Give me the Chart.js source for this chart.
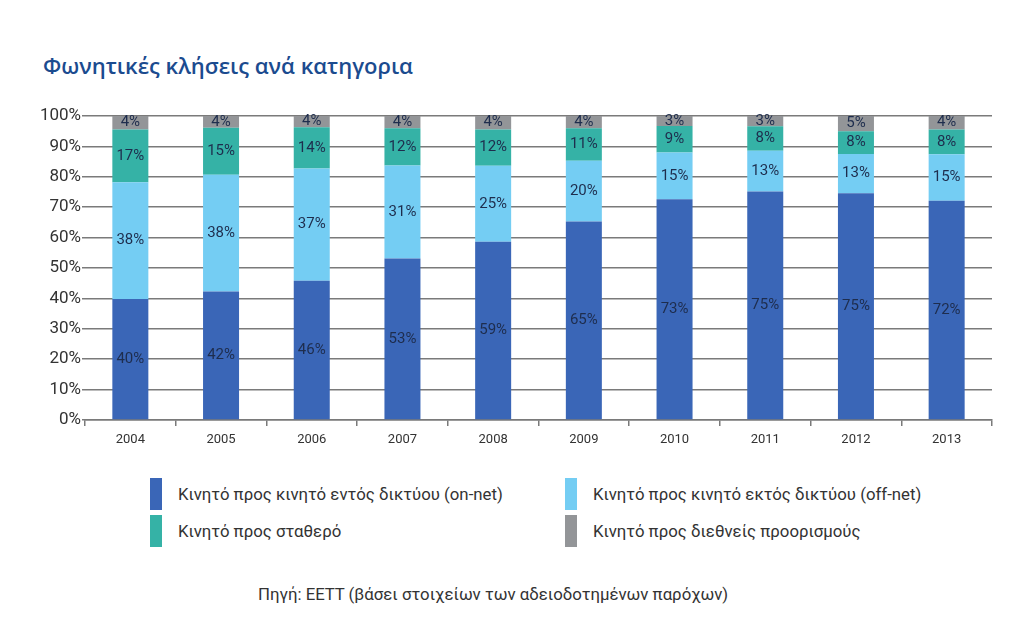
<!DOCTYPE html>
<html lang="el">
<head>
<meta charset="utf-8">
<title>Φωνητικές κλήσεις ανά κατηγορια</title>
<script src="https://cdn.jsdelivr.net/npm/chart.js@4.4.1/dist/chart.umd.min.js"></script>
<style>
  html, body { margin: 0; padding: 0; background: #fff; }
  body { width: 1024px; height: 635px; position: relative; overflow: hidden; font-family: Roboto, 'Noto Sans', sans-serif; color: #333; }
  #title { position: absolute; left: 43px; top: 50px; font-family: 'Open Sans', sans-serif; font-size: 22px; font-weight: 600; color: #1b4b8f; white-space: nowrap; }
  #chart-wrap { position: absolute; left: 0; top: 100px; width: 1000px; height: 360px; }
  #legend { position: absolute; left: 0; top: 0; width: 1024px; }
  .lg-item { position: absolute; display: flex; align-items: center; font-size: 16.8px; color: #333; white-space: nowrap; }
  .lg-box { width: 12px; height: 32px; margin-right: 16px; }
  #source { position: absolute; left: 258px; top: 584px; font-size: 16.8px; color: #333; white-space: nowrap; }
</style>
</head>
<body>
<div id="title">Φωνητικές κλήσεις ανά κατηγορια</div>
<div id="chart-wrap"><canvas id="chart-calls"></canvas></div>
<div id="legend"></div>
<div id="source">Πηγή: ΕΕΤΤ (βάσει στοιχείων των αδειοδοτημένων παρόχων)</div>

<script>
'use strict';

/* ===================================================
   Data (shares in %)
   =================================================== */
const years = ['2004', '2005', '2006', '2007', '2008', '2009', '2010', '2011', '2012', '2013'];

const onNet    = [39.8, 42.3, 45.8, 53.1, 58.6, 65.3, 72.6, 75.2, 74.6, 72.1];
const offNet   = [38.4, 38.4, 36.9, 30.6, 25.0, 20.0, 15.4, 13.4, 12.9, 15.3];
const toFixed  = [17.4, 15.4, 13.6, 12.3, 12.0, 10.7,  8.7,  8.0,  7.5,  8.2];
const intl     = [ 4.4,  3.9,  3.7,  4.0,  4.4,  4.0,  3.3,  3.4,  5.0,  4.4];

const yTicks = [0, 10, 20, 30, 40, 50, 60, 70, 80, 90, 100];

const seriesNames = [
  'Κινητό προς κινητό εντός δικτύου (on-net)',
  'Κινητό προς κινητό εκτός δικτύου (off-net)',
  'Κινητό προς σταθερό',
  'Κινητό προς διεθνείς προορισμούς'
];

const COLORS = ['#3a66b7', '#74cdf3', '#35b2a6', '#939598'];
const GRID = '#7a7a7a';
const LABEL_COLOR = '#1e2d4d';

/* ===================================================
   Value labels drawn in the middle of each segment
   =================================================== */
const segmentLabels = {
  id: 'segmentLabels',
  afterDatasetsDraw(chart) {
    const ctx = chart.ctx;
    ctx.save();
    ctx.font = "15px Roboto, 'Noto Sans', sans-serif";
    ctx.fillStyle = LABEL_COLOR;
    ctx.textAlign = 'center';
    ctx.textBaseline = 'middle';
    chart.data.datasets.forEach((ds, i) => {
      const meta = chart.getDatasetMeta(i);
      meta.data.forEach((bar, j) => {
        const { x, y, base } = bar.getProps(['x', 'y', 'base'], true);
        ctx.fillText(Math.round(ds.data[j]) + '%', x, (y + base) / 2);
      });
    });
    ctx.restore();
  }
};

/* ===================================================
   Stacked bar chart
   =================================================== */
function initCallsChart() {
  const canvas = document.getElementById('chart-calls');
  if (!canvas) return;

  const values = [onNet, offNet, toFixed, intl];

  return new Chart(canvas, {
    type: 'bar',
    data: {
      labels: years,
      datasets: values.map((data, i) => ({
        label: seriesNames[i],
        data: data,
        backgroundColor: COLORS[i],
        borderWidth: 0,
        barPercentage: 0.397,
        categoryPercentage: 1
      }))
    },
    options: {
      responsive: true,
      maintainAspectRatio: false,
      animation: false,
      layout: { padding: { left: 0, right: 8, top: 16, bottom: 0 } },
      plugins: {
        legend: { display: false },
        tooltip: { enabled: false }
      },
      scales: {
        x: {
          stacked: true,
          afterFit: s => { s.height = 40; },
          grid: {
            offset: true,
            drawOnChartArea: false,
            drawTicks: true,
            tickLength: 6,
            color: GRID,
            lineWidth: 1.5
          },
          border: { display: true, color: GRID, width: 1.5 },
          ticks: {
            color: '#333',
            padding: 6,
            font: { family: "Roboto, 'Noto Sans', sans-serif", size: 13 }
          }
        },
        y: {
          stacked: true,
          min: 0,
          max: 100,
          afterFit: s => { s.width = 85; },
          afterBuildTicks: s => { s.ticks = yTicks.map(v => ({ value: v })); },
          grid: {
            color: GRID,
            lineWidth: 1.5,
            drawTicks: true,
            tickLength: 3
          },
          border: { display: false },
          ticks: {
            color: '#333',
            padding: 1,
            font: { family: "Roboto, 'Noto Sans', sans-serif", size: 17 },
            callback: v => v + '%'
          }
        }
      }
    },
    plugins: [segmentLabels]
  });
}

/* ===================================================
   Legend in two columns, built from the series list
   =================================================== */
function buildLegend() {
  const box = document.getElementById('legend');
  const spots = [[150, 478], [565, 478], [150, 515], [565, 515]];
  seriesNames.forEach((name, i) => {
    const item = document.createElement('div');
    item.className = 'lg-item';
    item.style.left = spots[i][0] + 'px';
    item.style.top = spots[i][1] + 'px';
    const sw = document.createElement('span');
    sw.className = 'lg-box';
    sw.style.background = COLORS[i];
    const txt = document.createElement('span');
    txt.textContent = name;
    item.appendChild(sw);
    item.appendChild(txt);
    box.appendChild(item);
  });
}

document.addEventListener('DOMContentLoaded', () => {
  buildLegend();
  initCallsChart();
});
</script>
</body>
</html>
